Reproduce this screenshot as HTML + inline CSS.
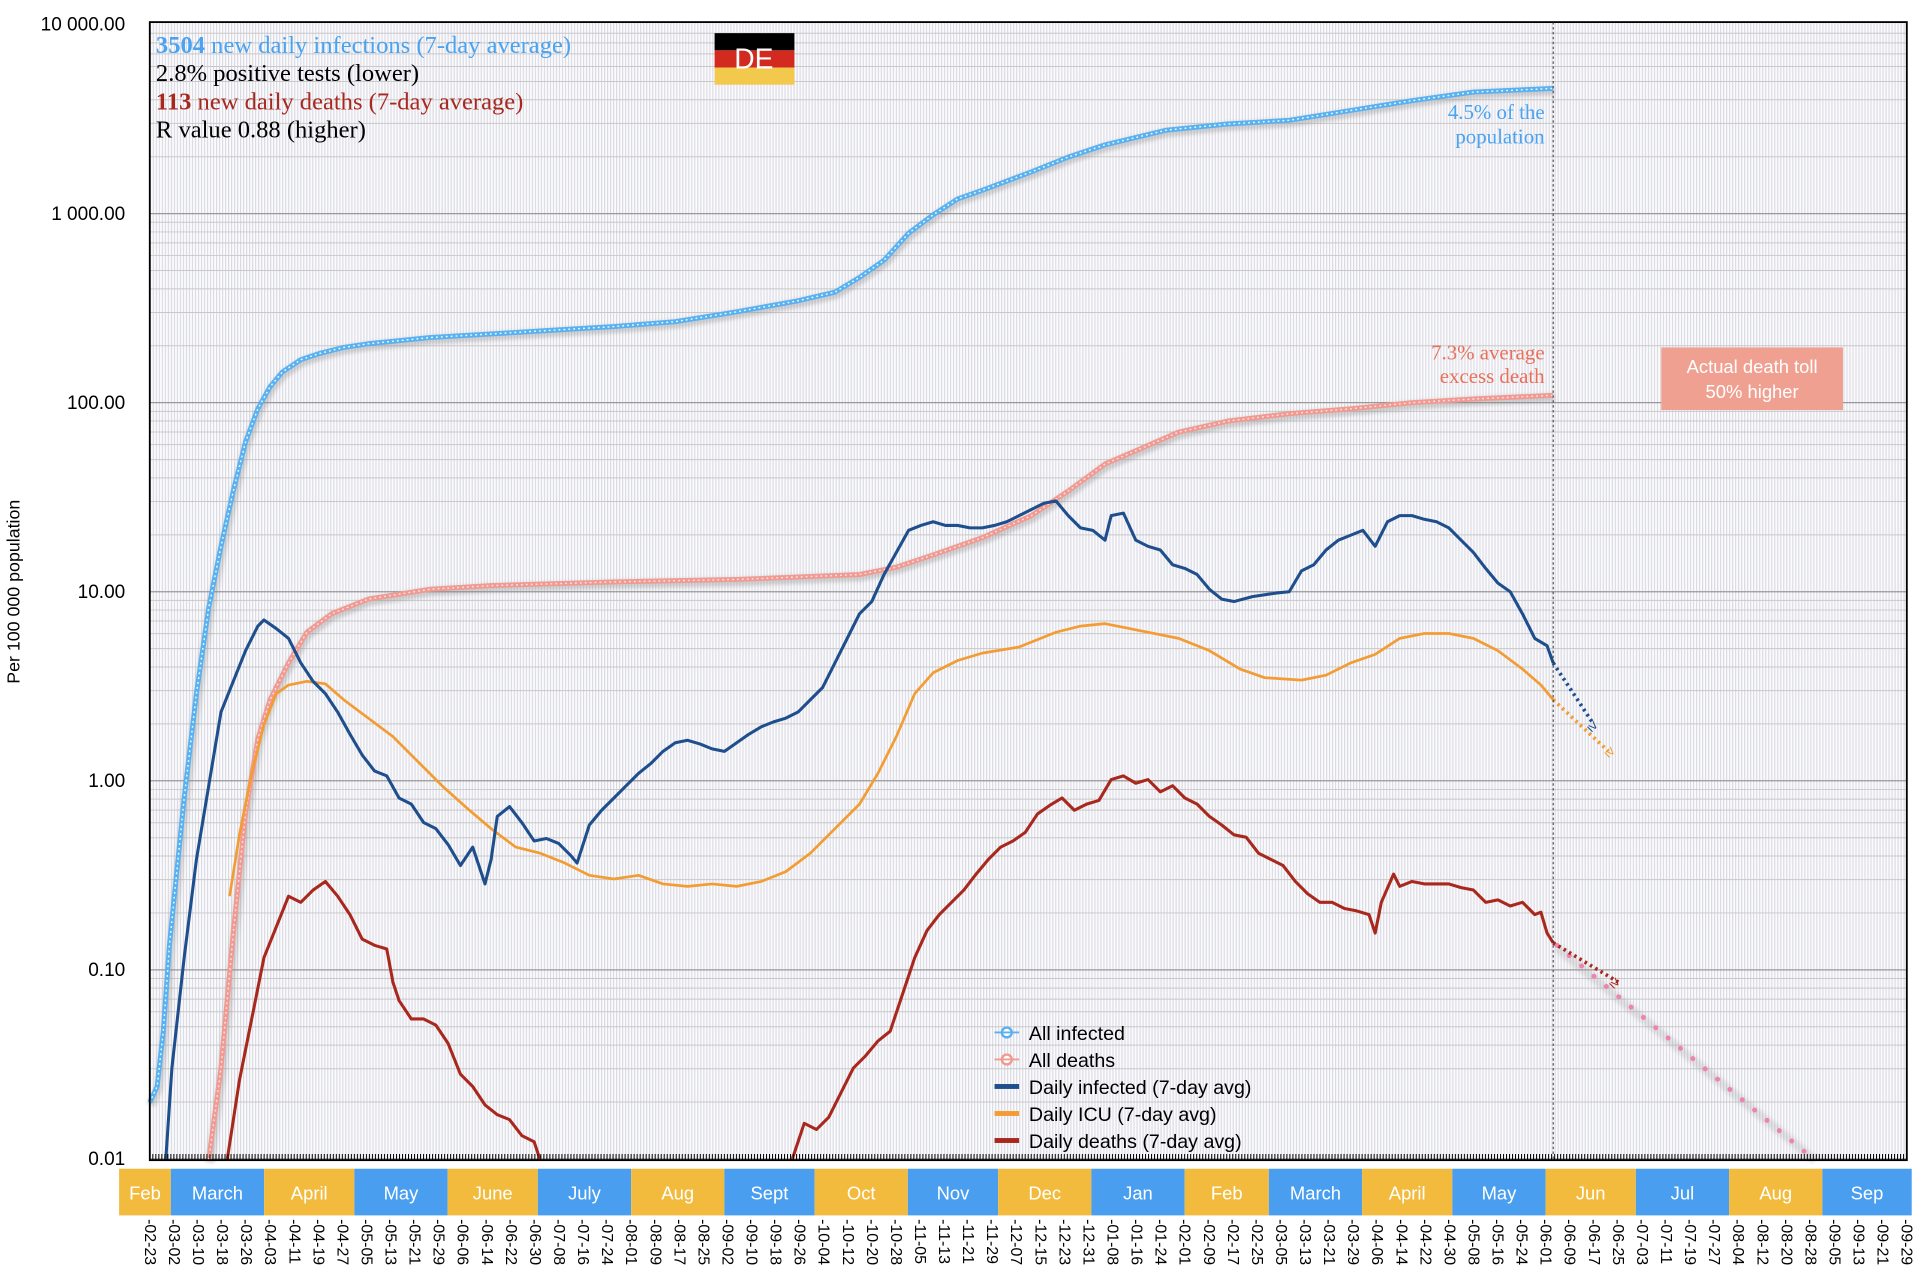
<!DOCTYPE html>
<html><head><meta charset="utf-8"><style>
html,body{margin:0;padding:0;background:#fff;width:1924px;height:1278px;overflow:hidden}
svg{display:block}
</style></head><body>
<svg id="s" width="1924" height="1278" viewBox="0 0 1567 1041" preserveAspectRatio="none" xmlns="http://www.w3.org/2000/svg">
<defs>
<pattern id="vg" x="122" y="0" width="2.45" height="10" patternUnits="userSpaceOnUse">
<rect x="0" y="0" width="0.9" height="10" fill="#d9d9e2"/>
</pattern>
<filter id="sh" x="-5%" y="-5%" width="110%" height="110%"><feGaussianBlur stdDeviation="1.5"/></filter>
</defs>
<rect x="122" y="18" width="1431" height="927" fill="#fbfbfd"/>
<rect x="122" y="18" width="1431" height="927" fill="url(#vg)"/>
<g id="grid"></g>
<g id="series"></g>
<rect x="122" y="18" width="1431" height="927" fill="none" stroke="#000" stroke-width="1.5"/>
<line x1="1265" y1="18" x2="1265" y2="945" stroke="#333" stroke-width="0.8" stroke-dasharray="2,2"/>
<g id="ticks"></g>
<g font-family="Liberation Sans, sans-serif" font-size="15.5" text-anchor="end" fill="#000">
<text x="102" y="25">10 000.00</text><text x="102" y="179">1 000.00</text><text x="102" y="333">100.00</text>
<text x="102" y="487">10.00</text><text x="102" y="641">1.00</text><text x="102" y="795">0.10</text><text x="102" y="949">0.01</text>
</g>
<text transform="translate(16,482) rotate(-90)" font-family="Liberation Sans, sans-serif" font-size="14.5" text-anchor="middle">Per 100 000 population</text>
<g font-family="Liberation Serif, serif" font-size="20">
<text x="127" y="43" fill="#4AA3F0"><tspan font-weight="bold">3504</tspan> new daily infections (7-day average)</text>
<text x="127" y="66" fill="#000">2.8% positive tests (lower)</text>
<text x="127" y="89" fill="#A8281E"><tspan font-weight="bold">113</tspan> new daily deaths (7-day average)</text>
<text x="127" y="112" fill="#000">R value 0.88 (higher)</text>
</g>
<g>
<rect x="582" y="27" width="65" height="14" fill="#000"/>
<rect x="582" y="41" width="65" height="14" fill="#D22A1E"/>
<rect x="582" y="55" width="65" height="14" fill="#F2C94C"/>
<text x="614" y="56" font-family="Liberation Sans, sans-serif" font-size="23" fill="#fff" text-anchor="middle">DE</text>
</g>
<g font-family="Liberation Serif, serif" font-size="17" text-anchor="end">
<text x="1258" y="97" fill="#4AA3F0">4.5% of the</text>
<text x="1258" y="117" fill="#4AA3F0">population</text>
<text x="1258" y="293" fill="#E8705A">7.3% average</text>
<text x="1258" y="312" fill="#E8705A">excess death</text>
</g>
<rect x="1353" y="283" width="148" height="51" fill="#F0A090"/>
<g font-family="Liberation Sans, sans-serif" font-size="15" fill="#fff" text-anchor="middle">
<text x="1427" y="304">Actual death toll</text><text x="1427" y="324">50% higher</text>
</g>
<g font-family="Liberation Sans, sans-serif" font-size="16" fill="#000">
<circle cx="820" cy="841" r="4" fill="#fff" stroke="#5AB0F0" stroke-width="2"/><line x1="810" y1="841" x2="830" y2="841" stroke="#5AB0F0" stroke-width="1.5"/><text x="838" y="847">All infected</text>
<circle cx="820" cy="863" r="4" fill="#fff" stroke="#F09A90" stroke-width="2"/><line x1="810" y1="863" x2="830" y2="863" stroke="#F09A90" stroke-width="1.5"/><text x="838" y="869">All deaths</text>
<rect x="810" y="883" width="20" height="4" fill="#1F4E8C"/><text x="838" y="891">Daily infected (7-day avg)</text>
<rect x="810" y="905" width="20" height="4" fill="#F39C34"/><text x="838" y="913">Daily ICU (7-day avg)</text>
<rect x="810" y="927" width="20" height="4" fill="#A8281E"/><text x="838" y="935">Daily deaths (7-day avg)</text>
</g>
<g id="months"></g>
<g id="dates"></g>
</svg>
<script>
var NS="http://www.w3.org/2000/svg";
function el(p,t,a,txt){var e=document.createElementNS(NS,t);for(var k in a)e.setAttribute(k,a[k]);if(txt!=null)e.textContent=txt;p.appendChild(e);return e;}
var X0=122,PD=2.45;
function yv(v){return 944-154*(Math.log10(v)+2);}
var g=document.getElementById('grid');
for(var d=-2;d<4;d++){for(var m=1;m<10;m++){var y=yv(m*Math.pow(10,d));el(g,'line',{x1:122,x2:1553,y1:y,y2:y,stroke:m==1?'#999':'#c9c9c9','stroke-width':m==1?1:0.8});}}
var tk=document.getElementById('ticks');var dd='';
for(var i=0;i<=584;i++){var x=X0+i*PD;dd+='M'+x+' 945L'+x+' 940';}
el(tk,'path',{d:dd,stroke:'#000','stroke-width':0.8});
var mg=document.getElementById('months');
var mb=[[97,'Feb'],[7,'March'],[38,'April'],[68,'May'],[99,'June'],[129,'July'],[160,'Aug'],[191,'Sept'],[221,'Oct'],[252,'Nov'],[282,'Dec'],[313,'Jan'],[344,'Feb'],[372,'March'],[403,'April'],[433,'May'],[464,'Jun'],[494,'Jul'],[525,'Aug'],[556,'Sep'],[586,null]];
for(var i=0;i<mb.length-1;i++){var xa=i==0?97:X0+mb[i][0]*PD;var xb=i==mb.length-2?1557:X0+mb[i+1][0]*PD;
el(mg,'rect',{x:xa,y:952,width:xb-xa,height:38,fill:i%2==0?'#F2BB3E':'#4A9EF0'});
el(mg,'text',{x:(xa+xb)/2,y:977,'font-family':'Liberation Sans, sans-serif','font-size':15,fill:'#fff','text-anchor':'middle'},mb[i][1]);}
var dg=document.getElementById('dates');var base=new Date(Date.UTC(2020,1,23));
for(var i=0;i<=73;i++){var dt=new Date(base.getTime()+i*8*86400000);var s='-'+String(dt.getUTCMonth()+1).padStart(2,'0')+'-'+String(dt.getUTCDate()).padStart(2,'0');
var x=X0+i*8*PD;el(dg,'text',{transform:'translate('+(x-4)+',993) rotate(90)','font-family':'Liberation Sans, sans-serif','font-size':13,fill:'#000'},s);}
var sg=document.getElementById('series');
function P(a){var s='';for(var i=0;i<a.length;i+=2)s+=(i?'L':'M')+a[i]+' '+a[i+1];return s;}
var inf=[122,898,128,885,133,840,138,770,145,700,150,650,160,565,170,495,180,445,190,400,200,360,210,333,220,315,230,303,245,293,260,288,280,283,300,280,350,275,400,272,450,269,500,266,550,262,600,254,650,245,680,238,700,226,720,212,740,190,760,175,780,162,800,155,840,140,870,128,900,118,950,106,1000,101,1050,98,1100,90,1150,82,1200,75,1265,72];
var dth=[170,945,180,870,190,760,200,662,210,602,220,570,235,540,250,515,270,500,300,488,350,480,400,477,500,474,600,472,700,468,730,462,760,452,800,438,840,420,870,400,900,378,930,365,960,352,1000,343,1050,337,1100,333,1150,328,1200,325,1265,322];
var din=[135,945,140,870,150,780,160,700,170,640,180,580,190,555,200,530,210,510,215,505,225,512,235,520,245,540,255,555,265,565,275,580,285,598,295,615,305,628,315,632,325,650,335,655,345,670,355,675,365,688,375,705,385,690,395,720,400,700,405,665,415,657,425,670,435,685,445,683,455,687,465,697,470,703,480,672,490,660,500,650,510,640,520,630,530,622,540,612,550,605,560,603,570,606,580,610,590,612,600,605,610,598,620,592,630,588,640,585,650,580,660,570,670,560,680,540,690,520,700,500,710,490,720,468,730,450,740,432,750,428,760,425,770,428,780,428,790,430,800,430,810,428,820,425,830,420,840,415,850,410,860,408,870,420,880,430,890,432,900,440,905,420,915,418,925,440,935,445,945,448,955,460,965,463,975,468,985,480,995,488,1005,490,1020,486,1040,483,1050,482,1060,465,1070,460,1080,448,1090,440,1100,436,1110,432,1120,445,1130,425,1140,420,1150,420,1160,423,1170,425,1180,430,1190,440,1200,450,1210,463,1220,475,1230,482,1240,500,1250,520,1260,526,1265,540];
var icu=[187,730,195,680,205,630,215,590,225,565,235,558,250,555,265,557,280,570,300,585,320,600,340,620,360,640,380,658,400,675,420,690,440,695,460,703,480,713,500,716,520,713,540,720,560,722,580,720,600,722,620,718,640,710,660,695,680,675,700,655,715,630,730,600,745,565,760,548,780,538,800,532,830,527,860,515,880,510,900,508,920,512,960,520,985,530,1010,545,1030,552,1060,554,1080,550,1100,540,1120,533,1140,520,1160,516,1180,516,1200,520,1220,530,1240,545,1255,558,1265,570];
var dd1=[185,945,195,880,205,830,215,780,225,755,235,730,245,735,255,725,265,718,275,730,285,745,295,765,305,770,315,773,320,800,325,815,335,830,345,830,355,835,365,850,375,875,385,885,395,900,405,908,415,912,425,925,435,930,440,945];
var dd2=[645,945,655,915,665,920,675,910,685,890,695,870,705,860,715,848,725,840,735,810,745,780,755,758,765,745,775,735,785,725,795,712,805,700,815,690,825,685,835,678,845,663,855,656,865,650,875,660,885,655,895,652,905,635,915,632,925,638,935,635,945,645,955,640,965,650,975,655,985,665,995,672,1005,680,1015,682,1025,695,1035,700,1045,705,1055,718,1065,728,1075,735,1085,735,1095,740,1105,742,1115,745,1120,760,1125,735,1135,712,1140,722,1150,718,1160,720,1170,720,1180,720,1190,723,1200,725,1210,735,1220,733,1230,738,1240,735,1250,745,1255,743,1260,760,1265,768];
el(sg,'path',{d:'M1268 772L1478 945',stroke:'#999','stroke-width':7,opacity:0.25,filter:'url(#sh)',fill:'none'});
el(sg,'path',{d:'M1268 770L1478 945',stroke:'#EE82B0','stroke-width':4,'stroke-dasharray':'0.1,13','stroke-linecap':'round',fill:'none'});
[inf,dth].forEach(function(a){el(sg,'path',{d:P(a),transform:'translate(1,2)',stroke:'#888','stroke-width':7,opacity:0.35,fill:'none',filter:'url(#sh)'});});
el(sg,'path',{d:P(dth),stroke:'#F09A90','stroke-width':4,fill:'none','stroke-linejoin':'round'});
el(sg,'path',{d:P(dth),stroke:'#fde','stroke-width':1.2,'stroke-dasharray':'1.5,2.5',fill:'none'});
el(sg,'path',{d:P(inf),stroke:'#5AB0F0','stroke-width':4,fill:'none','stroke-linejoin':'round'});
el(sg,'path',{d:P(inf),stroke:'#dff','stroke-width':1.2,'stroke-dasharray':'1.5,2.5',fill:'none'});
el(sg,'path',{d:P(icu),stroke:'#F39C34','stroke-width':2.2,fill:'none','stroke-linejoin':'round'});
el(sg,'path',{d:P(din),stroke:'#1F4E8C','stroke-width':2.5,fill:'none','stroke-linejoin':'round'});
el(sg,'path',{d:P(dd1),stroke:'#A8281E','stroke-width':2.5,fill:'none','stroke-linejoin':'round'});
el(sg,'path',{d:P(dd2),stroke:'#A8281E','stroke-width':2.5,fill:'none','stroke-linejoin':'round'});
el(sg,'path',{d:'M1265 540L1298 590',stroke:'#1F4E8C','stroke-width':3,'stroke-dasharray':'2,3',fill:'none'});
el(sg,'path',{d:'M1265 570L1310 612',stroke:'#F39C34','stroke-width':3,'stroke-dasharray':'2,3',fill:'none'});
el(sg,'path',{d:'M1265 768L1318 800',stroke:'#A8281E','stroke-width':3,'stroke-dasharray':'2,3',fill:'none'});
el(sg,'text',{x:1294,y:596,fill:'#1F4E8C','font-size':12,'font-family':'Liberation Sans, sans-serif',transform:'rotate(45 1298 592)'},'≥');
el(sg,'text',{x:1308,y:617,fill:'#F39C34','font-size':12,'font-family':'Liberation Sans, sans-serif',transform:'rotate(45 1312 613)'},'≥');
el(sg,'text',{x:1312,y:805,fill:'#A8281E','font-size':12,'font-family':'Liberation Sans, sans-serif',transform:'rotate(45 1316 801)'},'≥');
</script>
</body></html>
